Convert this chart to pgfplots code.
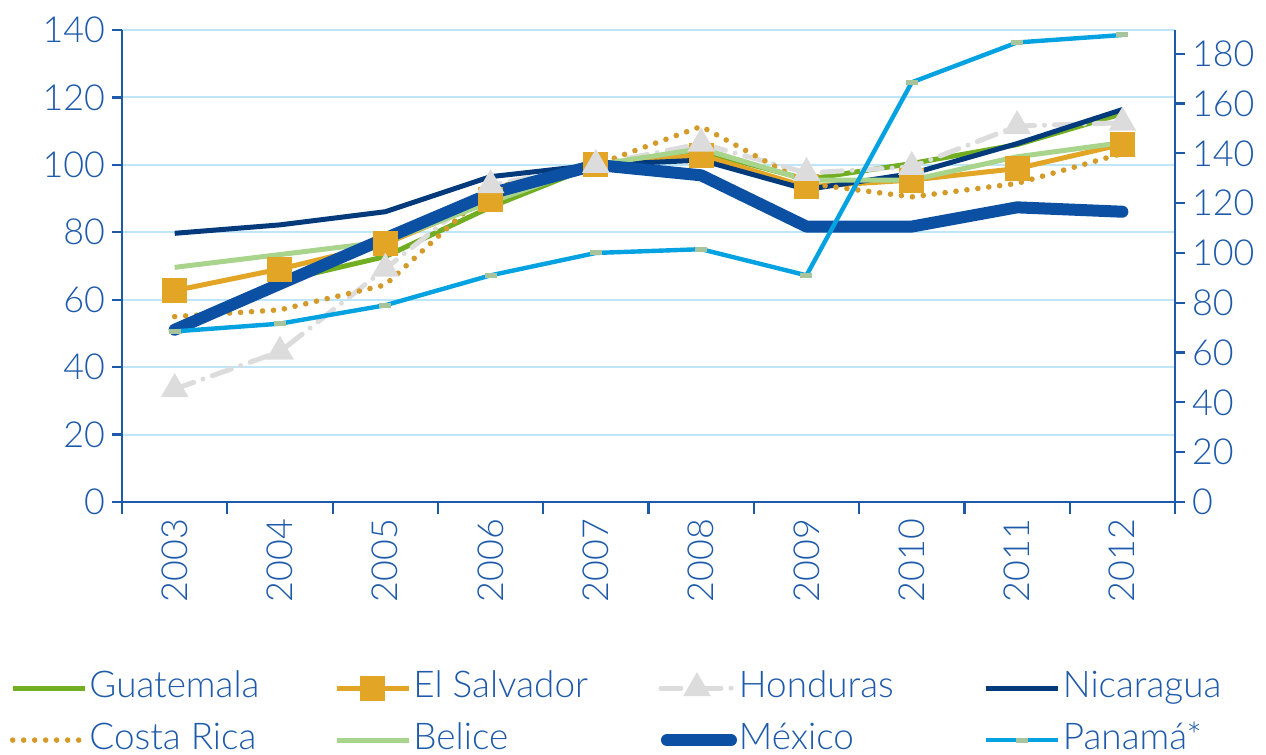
\documentclass[border=0pt]{standalone}
\usepackage{fontspec}
\setmainfont{Lato Light}
\usepackage{pgfplots}
\pgfplotsset{compat=1.18}

\definecolor{txtblue}{HTML}{1E5AAA}
\definecolor{gridblue}{HTML}{BFE6F8}
\definecolor{guate}{HTML}{72AE22}
\definecolor{salv}{HTML}{E2A526}
\definecolor{hond}{HTML}{DCDCDC}
\definecolor{nica}{HTML}{023A7C}
\definecolor{costa}{HTML}{D49A2A}
\definecolor{belice}{HTML}{A9D48C}
\definecolor{mex}{HTML}{0B50A2}
\definecolor{pana}{HTML}{05A2E2}
\definecolor{panamk}{HTML}{A8C49C}

\newcommand{\lentry}[1]{\makebox[118bp][l]{#1}}

\pgfplotsset{
  base/.style={
    width=526.5bp, height=236bp, scale only axis,
    xmin=2002.5, xmax=2012.5,
    tick align=outside,
    major tick length=5bp, minor tick length=6bp,
    axis line style={-, txtblue, line width=1.1bp},
    every tick/.style={txtblue, line width=1.1bp},
    tick label style={font=\fontsize{18}{20}\selectfont, color=txtblue},
    /pgf/number format/assume math mode=true,
    /pgf/number format/1000 sep={},
  },
}

\begin{document}
\begin{tikzpicture}
\begin{axis}[base,
  ymin=0, ymax=140, ytick={0,20,...,140},
  axis x line*=bottom, axis y line*=left,
  ymajorgrids, grid style={gridblue, line width=1bp},
  xtick={2003,...,2012},
  minor xtick={2002.5,2003.5,...,2012.5},
  major x tick style={draw=none},
  xticklabel style={rotate=90, anchor=east},
]
% Guatemala
\addplot[guate, line width=2.5bp] coordinates {
(2003,51)(2004,65.5)(2005,72.8)(2006,87.5)(2007,100)(2008,104)(2009,95.7)(2010,100.4)(2011,106)(2012,115.2)};
% El Salvador
\addplot[salv, line width=2.5bp, mark=square*, mark size=5bp, mark options={solid, fill=salv}] coordinates {
(2003,62.7)(2004,69.1)(2005,76.6)(2006,89.6)(2007,100)(2008,102.9)(2009,93.5)(2010,95.5)(2011,98.9)(2012,106.1)};
% Honduras
\addplot[hond, line width=2.5bp, line cap=round, dash pattern=on 10bp off 5bp on 0bp off 5bp,
  mark=triangle*, mark size=5.5bp, mark options={solid, fill=hond}] coordinates {
(2003,33.5)(2004,44.6)(2005,69.2)(2006,94)(2007,100)(2008,106.3)(2009,97.6)(2010,99.4)(2011,111.5)(2012,112.5)};
% Nicaragua
\addplot[nica, line width=2.5bp] coordinates {
(2003,79.7)(2004,82.2)(2005,86.1)(2006,96.5)(2007,100)(2008,101.4)(2009,92.7)(2010,97.4)(2011,106.3)(2012,116.4)};
% Costa Rica
\addplot[costa, line width=2.8bp, line cap=round, dash pattern=on 0bp off 5.5bp] coordinates {
(2003,55)(2004,57)(2005,64.4)(2006,93)(2007,100)(2008,111.4)(2009,94.5)(2010,90.5)(2011,94.5)(2012,103.4)};
% Belice
\addplot[belice, line width=2.5bp] coordinates {
(2003,69.6)(2004,73.4)(2005,77.2)(2006,89)(2007,100)(2008,104.8)(2009,95.5)(2010,95.5)(2011,102.4)(2012,106.6)};
% Mexico
\addplot[mex, line width=6bp, line cap=round, line join=round] coordinates {
(2003,51.1)(2004,64.7)(2005,78.2)(2006,91.5)(2007,100)(2008,96.9)(2009,81.7)(2010,81.7)(2011,87.4)(2012,86.1)};
\end{axis}

\begin{axis}[base,
  ymin=0, ymax=189.5, ytick={0,20,...,180},
  axis x line=none, axis y line*=right,
  legend columns=4,
  legend cell align=left,
  legend style={draw=none, fill=none, inner sep=0pt, outer sep=0pt,
    at={(axis description cs:-0.1065,-0.354)}, anchor=north west,
    font=\fontsize{18.5}{20}\selectfont, text=txtblue,
    nodes={inner sep=1bp, text height=13bp, text depth=4bp},
    row sep=7bp,
    /tikz/every even column/.append style={column sep=3.5bp}},
  legend image code/.code={\draw[mark repeat=2, mark phase=2] plot coordinates {(0bp,0bp) (18bp,0bp) (36bp,0bp)};},
]
\addlegendimage{guate, line width=2.5bp}
\addlegendentry{\lentry{Guatemala}}
\addlegendimage{salv, line width=2.5bp, mark=square*, mark size=5bp, mark options={solid, fill=salv}}
\addlegendentry{\lentry{El Salvador}}
\addlegendimage{hond, line width=2.5bp, line cap=round, dash pattern=on 10bp off 5bp on 0bp off 5bp, mark=triangle*, mark size=5.5bp, mark options={solid, fill=hond}}
\addlegendentry{\lentry{Honduras}}
\addlegendimage{nica, line width=2.5bp}
\addlegendentry{\lentry{Nicaragua}}
\addlegendimage{costa, line width=2.8bp, line cap=round, dash pattern=on 0bp off 5.5bp}
\addlegendentry{\lentry{Costa Rica}}
\addlegendimage{belice, line width=2.5bp}
\addlegendentry{\lentry{Belice}}
\addlegendimage{mex, line width=6bp, line cap=round, legend image code/.code={\draw (3bp,0bp) -- (35bp,0bp);}}
\addlegendentry{\lentry{México}}
% Panama (right axis)
\addplot[pana, line width=2.2bp, mark=-, mark size=3bp, mark options={panamk, line width=2.5bp}] coordinates {
(2003,68.5)(2004,71.6)(2005,79)(2006,91)(2007,100)(2008,101.5)(2009,91)(2010,168.5)(2011,184.5)(2012,187.5)};
\addlegendentry{\lentry{Panamá*}}
\coordinate (bbl) at (axis description cs:-0.1159,-0.5339);
\coordinate (btr) at (axis description cs:1.0864,1.0636);
\end{axis}
\pgfresetboundingbox
\path[use as bounding box] (bbl) rectangle (btr);
\end{tikzpicture}
\end{document}
